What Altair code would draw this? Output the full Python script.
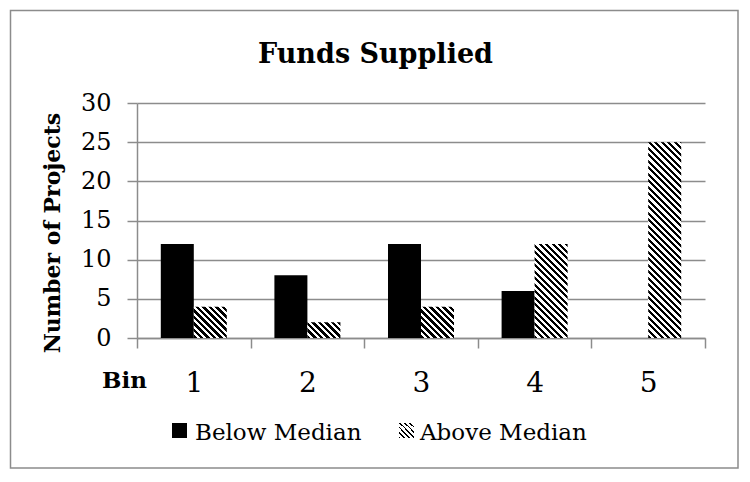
import altair as alt
import pandas as pd

# ---- data ----
bins = ["1", "2", "3", "4", "5"]
below_median = [12, 8, 12, 6, 0]
above_median = [4, 2, 4, 12, 25]
series = ["Below Median", "Above Median"]
y_ticks = [0, 5, 10, 15, 20, 25, 30]
title_text = "Funds Supplied"
y_title = "Number of Projects"
x_title = "Bin"

# ---- layout / style ----
W, H = 568, 235
YMAX = 30
FONT = "DejaVu Serif"
GRAY = "#8c8c8c"
step = W / len(bins)
BAR_W = 33
off_pad = (step / BAR_W - 2) / 2

rows = []
for b, lo, hi in zip(bins, below_median, above_median):
    rows.append({"Bin": b, "Series": series[0], "Projects": lo})
    rows.append({"Bin": b, "Series": series[1], "Projects": hi})
df = pd.DataFrame(rows)


def hatch(w, h, period=6.5, dark=0.5):
    """Diagonal stripes via a linear gradient in bounding-box units."""
    span = w + h
    k = span / (w * w + h * h)
    stops = []
    i = 0
    while i * period < span:
        a = i * period / span
        b = min((i * period + period * dark) / span, 1)
        c = min((i + 1) * period / span, 1)
        stops += [
            {"offset": a, "color": "black"},
            {"offset": b, "color": "black"},
            {"offset": b, "color": "white"},
            {"offset": c, "color": "white"},
        ]
        i += 1
    return {"gradient": "linear", "x1": 0, "y1": 1, "x2": k * w, "y2": 1 - k * h, "stops": stops}


x_axis = alt.Axis(
    labelAngle=0, tickBand="extent", domainColor=GRAY, domainWidth=1.5,
    tickColor=GRAY, tickWidth=1.5, tickSize=10, labelFont=FONT, labelFontSize=28,
    labelBaseline="alphabetic", labelPadding=43, labelColor="black", title=None,
)
y_axis = alt.Axis(
    values=y_ticks, grid=True, gridColor=GRAY, gridWidth=1.5, domainColor=GRAY,
    domainWidth=1.5, tickColor=GRAY, tickWidth=1.5, tickSize=10, labelFont=FONT,
    labelFontSize=24, labelColor="black", labelPadding=16, title=None,
)

base = alt.Chart(df).encode(
    x=alt.X("Bin:N", sort=bins,
            scale=alt.Scale(domain=bins, paddingInner=0, paddingOuter=0),
            axis=x_axis),
    xOffset=alt.XOffset("Series:N",
                        scale=alt.Scale(domain=series, paddingInner=0, paddingOuter=off_pad)),
    y=alt.Y("Projects:Q", scale=alt.Scale(domain=[0, YMAX], nice=False), axis=y_axis),
)

black_bars = base.transform_filter(alt.datum.Series == series[0]).mark_bar(color="black")
hatched_bars = [
    base.transform_filter((alt.datum.Series == series[1]) & (alt.datum.Bin == b))
    .mark_bar(fill=hatch(BAR_W, v / YMAX * H))
    for b, v in zip(bins, above_median)
]

one = alt.Data(values=[{"k": 1}])

border = alt.Chart(one).mark_rect(fillOpacity=0, stroke=GRAY, strokeWidth=1.5).encode(
    x=alt.value(-126.5), x2=alt.value(601), y=alt.value(-92.5), y2=alt.value(365)
)
title = alt.Chart(one).mark_text(
    text=title_text, font=FONT, fontSize=27, fontWeight="bold", align="center",
    baseline="alphabetic", color="black"
).encode(x=alt.value(238.5), y=alt.value(-40))
ytitle = alt.Chart(one).mark_text(
    text=y_title, font=FONT, fontSize=22, fontWeight="bold", align="center",
    baseline="alphabetic", angle=270, color="black"
).encode(x=alt.value(-77), y=alt.value(130))
xtitle = alt.Chart(one).mark_text(
    text=x_title, font=FONT, fontSize=23, fontWeight="bold", align="left",
    baseline="alphabetic", color="black"
).encode(x=alt.value(-35), y=alt.value(285))

leg_black = alt.Chart(one).mark_rect(color="black").encode(
    x=alt.value(35), x2=alt.value(50), y=alt.value(320), y2=alt.value(335)
)
leg_hatch = alt.Chart(one).mark_rect(fill=hatch(15, 15, period=5.0, dark=0.35)).encode(
    x=alt.value(262), x2=alt.value(277), y=alt.value(320), y2=alt.value(335)
)
leg_t1 = alt.Chart(one).mark_text(
    text=series[0], font=FONT, fontSize=23, align="left", baseline="alphabetic", color="black"
).encode(x=alt.value(58), y=alt.value(337))
leg_t2 = alt.Chart(one).mark_text(
    text=series[1], font=FONT, fontSize=23, align="left", baseline="alphabetic", color="black"
).encode(x=alt.value(283), y=alt.value(337))

chart = alt.layer(
    border, black_bars, *hatched_bars, title, ytitle, xtitle,
    leg_black, leg_hatch, leg_t1, leg_t2
).properties(
    width=W, height=H,
    autosize=alt.AutoSizeParams(type="none"),
    padding={"left": 129, "top": 95, "right": 35, "bottom": 132},
    background="white",
).configure_view(strokeWidth=0)

chart.save("out.html", embed_options={"renderer": "svg", "actions": False})
